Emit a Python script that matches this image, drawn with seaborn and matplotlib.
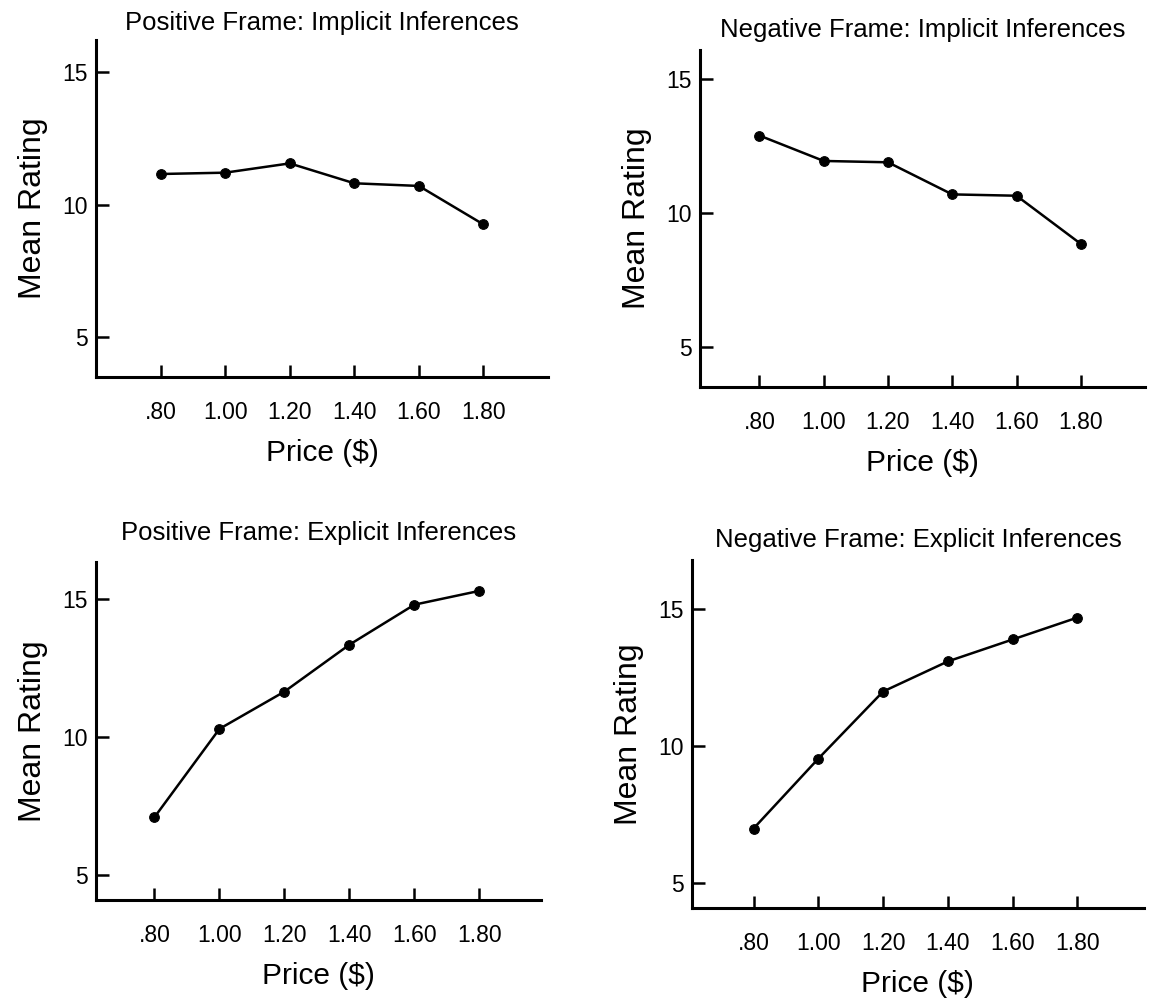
import pandas as pd
import matplotlib
matplotlib.use("Agg")
import matplotlib.pyplot as plt
import seaborn as sns

# Price levels shown on the x axis
prices = [0.80, 1.00, 1.20, 1.40, 1.60, 1.80]
price_labels = ['.80', '1.00', '1.20', '1.40', '1.60', '1.80']

# Mean ratings
pos_implicit = [11.15, 11.2, 11.55, 10.8, 10.7, 9.25]
neg_implicit = [12.9, 11.95, 11.9, 10.7, 10.65, 8.85]
pos_explicit = [7.1, 10.3, 11.65, 13.35, 14.8, 15.3]
neg_explicit = [7.0, 9.55, 12.0, 13.1, 13.9, 14.7]

titles = ['Positive Frame: Implicit Inferences', 'Negative Frame: Implicit Inferences',
          'Positive Frame: Explicit Inferences', 'Negative Frame: Explicit Inferences']
y_ticks = [5, 10, 15]

sns.set_style('ticks')
plt.rcParams['font.family'] = ['Liberation Sans', 'DejaVu Sans']
plt.rcParams['text.color'] = 'black'
plt.rcParams['axes.labelcolor'] = 'black'
plt.rcParams['xtick.color'] = 'black'
plt.rcParams['ytick.color'] = 'black'
plt.rcParams['axes.edgecolor'] = 'black'

fig = plt.figure(figsize=(11.5, 10.07), dpi=100)

# axes box (left, bottom, width, height), x limits, y limits, title pad
panels = [
    ([0.0835, 0.6256, 0.393, 0.3347], (0.60, 2.00), (3.5, 16.2), 7, pos_implicit),
    ([0.6087, 0.6157, 0.387, 0.3347], (0.615, 2.00), (3.5, 16.1), 9, neg_implicit),
    ([0.0835, 0.1063, 0.387, 0.3357], (0.62, 1.99), (4.1, 16.35), 16, pos_explicit),
    ([0.6017, 0.0983, 0.393, 0.3456], (0.61, 2.005), (4.1, 16.8), 9, neg_explicit),
]

for (box, xlim, ylim, tpad, values), title in zip(panels, titles):
    ax = fig.add_axes(box)
    df = pd.DataFrame({'price': prices, 'rating': values})
    sns.lineplot(data=df, x='price', y='rating', ax=ax, color='black',
                 linewidth=1.8, marker='o', markersize=7,
                 markerfacecolor='black', markeredgecolor='black')
    ax.set_xlim(*xlim)
    ax.set_ylim(*ylim)
    ax.set_xticks(prices)
    ax.set_xticklabels(price_labels)
    ax.set_yticks(y_ticks)
    sns.despine(ax=ax)
    for side in ['left', 'bottom']:
        ax.spines[side].set_linewidth(2.2)
    ax.tick_params(axis='x', direction='in', length=9, width=1.8, pad=17, labelsize=16.5)
    ax.tick_params(axis='y', direction='in', length=9, width=1.8, pad=6, labelsize=16.5)
    ax.set_xlabel('Price ($)', fontsize=21.5, labelpad=11)
    ax.set_ylabel('Mean Rating', fontsize=23, labelpad=10)
    ax.set_title(title, fontsize=18.5, pad=tpad)

plt.savefig('out.png', dpi=100)
